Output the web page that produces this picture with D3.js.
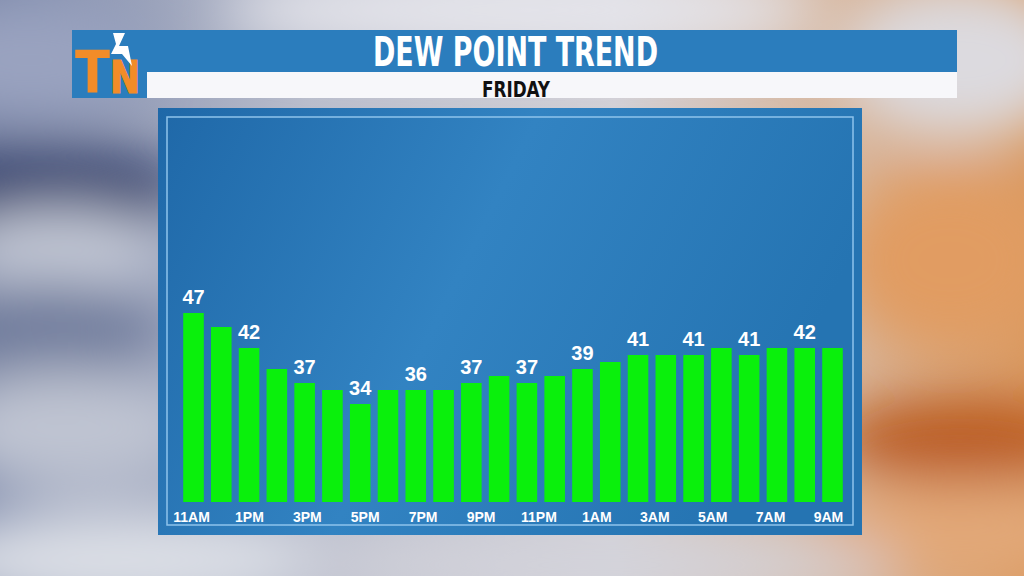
<!DOCTYPE html>
<html>
<head>
<meta charset="utf-8">
<script src="https://cdn.jsdelivr.net/npm/d3@7"></script>
<style>
  html, body { margin: 0; padding: 0; background: #b8bccb; }
  svg { display: block; }
</style>
</head>
<body>
<div id="chart"></div>
<script>
const width = 1024;
const height = 576;

// data
const hours = ["11AM", "12PM", "1PM", "2PM", "3PM", "4PM", "5PM", "6PM", "7PM", "8PM", "9PM", "10PM",
    "11PM", "12AM", "1AM", "2AM", "3AM", "4AM", "5AM", "6AM", "7AM", "8AM", "9AM", "10AM"];
const dewPoints = [47, 45, 42, 39, 37, 36, 34, 36, 36, 36, 37, 38, 37, 38, 39, 40, 41, 41, 41, 42, 41, 42, 42, 42];
const tickLabels = ["11AM", "1PM", "3PM", "5PM", "7PM", "9PM", "11PM", "1AM", "3AM", "5AM", "7AM", "9AM"];
const title = "DEW POINT TREND";
const subtitle = "FRIDAY";

const data = hours.map((h, i) => ({ hour: h, value: dewPoints[i], i: i }));

const svg = d3.select("#chart").append("svg").attr("width", width).attr("height", height);
const defs = svg.append("defs");

// background (sky / clouds approximation)
const bgGrad = defs.append("linearGradient").attr("id", "bgGrad").attr("x1", 0).attr("x2", 1).attr("y1", 0).attr("y2", 0);
bgGrad.append("stop").attr("offset", "0%").attr("stop-color", "#7d89aa");
bgGrad.append("stop").attr("offset", "30%").attr("stop-color", "#b9bdcc");
bgGrad.append("stop").attr("offset", "60%").attr("stop-color", "#d2d0d6");
bgGrad.append("stop").attr("offset", "85%").attr("stop-color", "#d8b294");
bgGrad.append("stop").attr("offset", "100%").attr("stop-color", "#d99a62");

defs.append("filter").attr("id", "blur").attr("x", "-50%").attr("y", "-50%").attr("width", "200%").attr("height", "200%")
    .append("feGaussianBlur").attr("stdDeviation", 28);

svg.append("rect").attr("width", width).attr("height", height).attr("fill", "url(#bgGrad)");

const clouds = [
    { cx: 30, cy: 60, rx: 120, ry: 60, c: "#9aa3c0" },
    { cx: 40, cy: 190, rx: 150, ry: 45, c: "#34426e" },
    { cx: 60, cy: 250, rx: 110, ry: 40, c: "#c6cbd8" },
    { cx: 40, cy: 330, rx: 120, ry: 50, c: "#6f7b9c" },
    { cx: 70, cy: 430, rx: 130, ry: 60, c: "#bfc4d2" },
    { cx: 120, cy: 560, rx: 200, ry: 50, c: "#dcdfe6" },
    { cx: 520, cy: 10, rx: 300, ry: 40, c: "#e6e6ec" },
    { cx: 960, cy: 60, rx: 120, ry: 80, c: "#dcdadf" },
    { cx: 950, cy: 260, rx: 110, ry: 90, c: "#e19c62" },
    { cx: 960, cy: 440, rx: 130, ry: 40, c: "#b9581a" },
    { cx: 960, cy: 530, rx: 140, ry: 50, c: "#e2a878" },
    { cx: 600, cy: 565, rx: 300, ry: 30, c: "#d4d4dc" }
];
svg.append("g").attr("filter", "url(#blur)")
    .selectAll("ellipse").data(clouds).join("ellipse")
    .attr("cx", d => d.cx).attr("cy", d => d.cy).attr("rx", d => d.rx).attr("ry", d => d.ry)
    .attr("fill", d => d.c);

// header
const headerBlue = "#2b7dbd";
svg.append("rect").attr("x", 72).attr("y", 30).attr("width", 885).attr("height", 42).attr("fill", headerBlue);
svg.append("rect").attr("x", 72).attr("y", 72).attr("width", 75).attr("height", 26).attr("fill", headerBlue);
svg.append("rect").attr("x", 147).attr("y", 72).attr("width", 810).attr("height", 26).attr("fill", "#f7f7fa");

svg.append("text")
    .attr("x", 373).attr("y", 66)
    .attr("textLength", 285).attr("lengthAdjust", "spacingAndGlyphs")
    .attr("font-family", "'DejaVu Sans Condensed', 'DejaVu Sans', sans-serif")
    .attr("font-weight", 700).attr("font-size", 40)
    .attr("fill", "#fff")
    .text(title);

svg.append("text")
    .attr("x", 482).attr("y", 96.5)
    .attr("textLength", 68).attr("lengthAdjust", "spacingAndGlyphs")
    .attr("font-family", "'DejaVu Sans Condensed', 'DejaVu Sans', sans-serif")
    .attr("font-weight", 700).attr("font-size", 22)
    .attr("fill", "#111")
    .text(subtitle);

// logo
const logo = svg.append("g");
logo.append("text")
    .attr("x", 75).attr("y", 93)
    .attr("textLength", 35).attr("lengthAdjust", "spacingAndGlyphs")
    .attr("font-family", "'DejaVu Sans Condensed', sans-serif")
    .attr("font-weight", 700).attr("font-size", 59)
    .attr("fill", "#f28c28")
    .text("T");
logo.append("text")
    .attr("x", 110).attr("y", 93)
    .attr("textLength", 30).attr("lengthAdjust", "spacingAndGlyphs")
    .attr("font-family", "'DejaVu Sans Condensed', sans-serif")
    .attr("font-weight", 700).attr("font-size", 45)
    .attr("fill", "#f28c28")
    .attr("stroke", "#f28c28").attr("stroke-width", 1.2)
    .text("N");
logo.append("path")
    .attr("d", "M113,33 L125,33 L119,46 L128,46 L132,66 L122,54 L111,54 L116,44 Z")
    .attr("fill", "#fff");

// chart panel
const panelGrad = defs.append("linearGradient").attr("id", "panelGrad").attr("x1", 0).attr("x2", 1).attr("y1", 0).attr("y2", 0.3);
panelGrad.append("stop").attr("offset", "0%").attr("stop-color", "#1f68a8");
panelGrad.append("stop").attr("offset", "50%").attr("stop-color", "#3283c2");
panelGrad.append("stop").attr("offset", "100%").attr("stop-color", "#2574b2");

svg.append("rect").attr("x", 158).attr("y", 108).attr("width", 704).attr("height", 427).attr("fill", "url(#panelGrad)");
svg.append("rect").attr("x", 167).attr("y", 117).attr("width", 686).attr("height", 408)
    .attr("fill", "none").attr("stroke", "#8ec3ec").attr("stroke-width", 1.5);

// scales
const xScale = d3.scaleBand()
    .domain(hours)
    .range([176, 850])
    .paddingInner(0.26)
    .paddingOuter(0.26);

const yScale = d3.scaleLinear()
    .domain([20, 50])
    .range([502, 292]);

const labelScale = d3.scalePoint()
    .domain(tickLabels)
    .range([191, 828]);

// bars
const g = svg.append("g");
g.selectAll("rect.bar")
    .data(data)
    .join("rect")
    .attr("class", "bar")
    .attr("x", d => xScale(d.hour))
    .attr("y", d => yScale(d.value))
    .attr("width", xScale.bandwidth())
    .attr("height", d => yScale(20) - yScale(d.value))
    .attr("fill", "#0af00c");

// value labels on every other bar
g.selectAll("text.val")
    .data(data.filter(d => d.i % 2 === 0))
    .join("text")
    .attr("class", "val")
    .attr("x", d => xScale(d.hour) + xScale.bandwidth() / 2)
    .attr("y", d => yScale(d.value) - 9)
    .attr("text-anchor", "middle")
    .attr("font-family", "'Liberation Sans', Arial, sans-serif")
    .attr("font-weight", 700)
    .attr("font-size", 20)
    .attr("fill", "#fff")
    .text(d => d.value);

// x axis
const xAxis = d3.axisBottom(labelScale).tickSize(0).tickPadding(0);
const axisG = svg.append("g")
    .attr("transform", "translate(0,512)")
    .call(xAxis);
axisG.select(".domain").remove();
axisG.selectAll("text")
    .attr("font-family", "'Liberation Sans', Arial, sans-serif")
    .attr("font-weight", 700)
    .attr("font-size", 14)
    .attr("fill", "#fff");
</script>
</body>
</html>
